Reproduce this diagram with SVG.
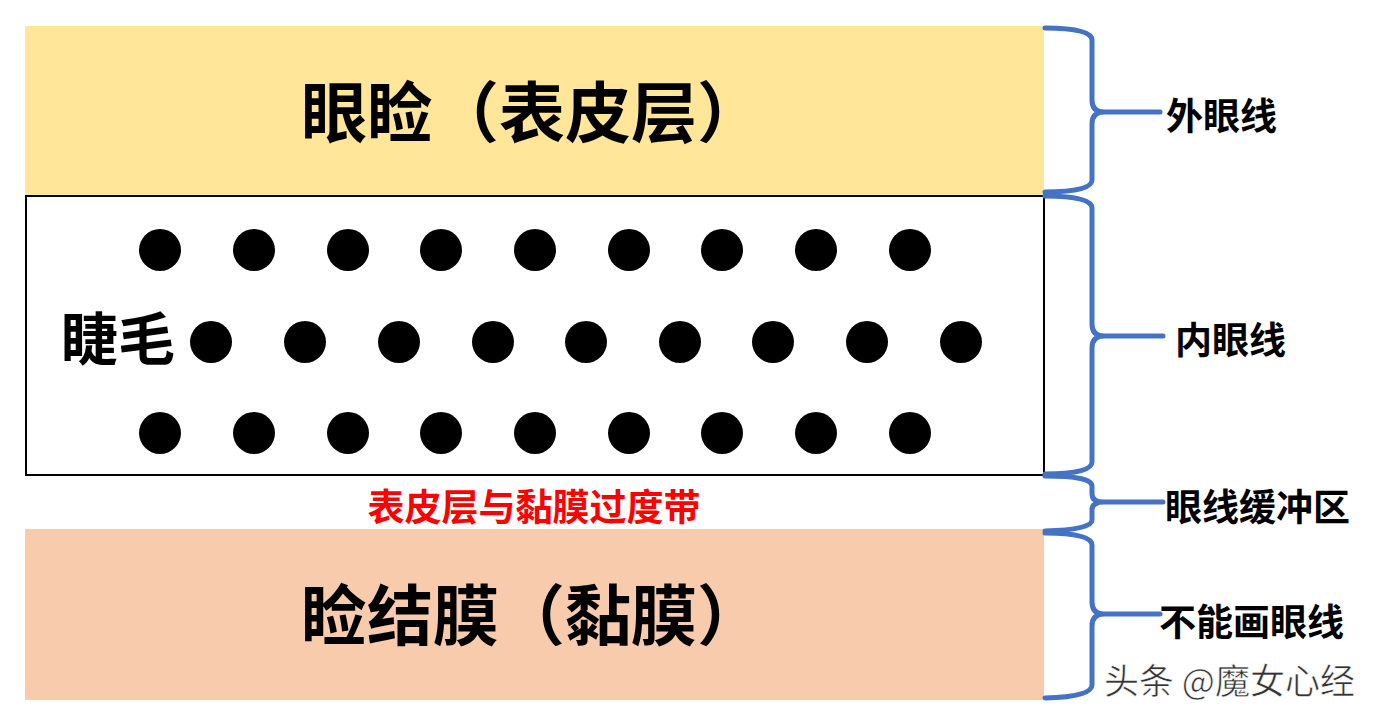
<svg xmlns="http://www.w3.org/2000/svg" width="1380" height="720" viewBox="0 0 1380 720">
<style>
.cjk{font-family:"Liberation Sans","Noto Sans CJK SC",sans-serif;font-weight:bold;fill:#000}
.big{font-size:66px}
.side{font-size:37px}
.brace{fill:none;stroke:#4472C4;stroke-width:5;stroke-linecap:round;stroke-linejoin:round}
.dot{fill:#000}
</style>
<rect width="1380" height="720" fill="#fff"/>
<g id="eyelid">
<rect x="25" y="26" width="1019" height="169" fill="#FFE699"/>
<text class="cjk big" x="532" y="137" text-anchor="middle">眼睑（表皮层）</text>
</g>
<g id="lashes">
<rect x="26" y="196" width="1018" height="279" fill="#fff" stroke="#000" stroke-width="2"/>
<text class="cjk" x="61" y="360" font-size="57">睫毛</text>
<g class="dot">
<circle cx="160" cy="250" r="21"/><circle cx="254" cy="250" r="21"/><circle cx="348" cy="250" r="21"/><circle cx="441" cy="250" r="21"/><circle cx="535" cy="250" r="21"/><circle cx="629" cy="250" r="21"/><circle cx="722" cy="250" r="21"/><circle cx="816" cy="250" r="21"/><circle cx="910" cy="250" r="21"/>
<circle cx="211" cy="342" r="21"/><circle cx="305" cy="342" r="21"/><circle cx="399" cy="342" r="21"/><circle cx="493" cy="342" r="21"/><circle cx="586" cy="342" r="21"/><circle cx="680" cy="342" r="21"/><circle cx="773" cy="342" r="21"/><circle cx="867" cy="342" r="21"/><circle cx="961" cy="342" r="21"/>
<circle cx="160" cy="433" r="21"/><circle cx="254" cy="433" r="21"/><circle cx="348" cy="433" r="21"/><circle cx="441" cy="433" r="21"/><circle cx="535" cy="433" r="21"/><circle cx="629" cy="433" r="21"/><circle cx="722" cy="433" r="21"/><circle cx="816" cy="433" r="21"/><circle cx="910" cy="433" r="21"/>
</g>
</g>
<g id="transition">
<text class="cjk" x="534" y="521" font-size="37" text-anchor="middle" style="fill:#FF0000">表皮层与黏膜过度带</text>
</g>
<g id="conjunctiva">
<rect x="25" y="529" width="1019" height="171" fill="#F8CBAD"/>
<text class="cjk big" x="532" y="640" text-anchor="middle">睑结膜（黏膜）</text>
</g>
<g id="connectors">
<path class="brace" d="M1045 28 Q1092 28 1092 40 L1092 100 Q1092 112 1104 112 L1160 112 M1104 112 Q1092 112 1092 124 L1092 180 Q1092 192 1045 192"/>
<path class="brace" d="M1045 196 Q1092 196 1092 208 L1092 324 Q1092 336 1104 336 L1163 336 M1104 336 Q1092 336 1092 348 L1092 462 Q1092 474 1045 474"/>
<path class="brace" d="M1045 476 Q1092 476 1092 486 L1092 494 Q1092 502 1104 502 L1163 502 M1104 502 Q1092 502 1092 510 L1092 520 Q1092 530 1045 531"/>
<path class="brace" d="M1045 533 Q1092 533 1092 545 L1092 602 Q1092 614 1104 614 L1160 614 M1104 614 Q1092 614 1092 626 L1092 685 Q1092 697 1045 698"/>
</g>
<g id="labels">
<text class="cjk side" x="1166" y="130">外眼线</text>
<text class="cjk side" x="1175" y="354">内眼线</text>
<text class="cjk side" x="1165" y="521">眼线缓冲区</text>
<text class="cjk side" x="1159" y="636">不能画眼线</text>
</g>
<text x="1104" y="694" font-family="'Noto Sans CJK SC',sans-serif" font-size="35" fill="#333" stroke="#fff" stroke-width="0.6">头条 @魔女心经</text>
</svg>
